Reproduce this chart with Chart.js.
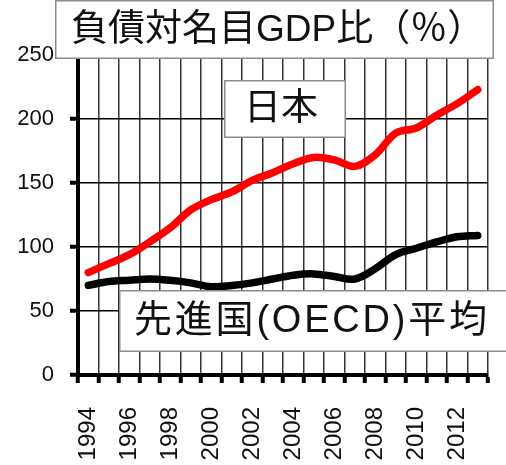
<!DOCTYPE html>
<html>
<head>
<meta charset="utf-8">
<script src="https://cdn.jsdelivr.net/npm/chart.js@4.4.1/dist/chart.umd.min.js"></script>
<style>
  html, body { margin: 0; padding: 0; background: #fff; }
  #wrap { width: 506px; height: 465px; }
</style>
</head>
<body>
<div id="wrap"><canvas id="c" width="506" height="465"></canvas></div>
<script>
// Years on the category axis
const years = ['1994', '1995', '1996', '1997', '1998', '1999', '2000', '2001', '2002', '2003',
               '2004', '2005', '2006', '2007', '2008', '2009', '2010', '2011', '2012', '2013'];

// Government debt to nominal GDP (%)
const japanDebt = [80, 87, 94, 104, 115, 129, 137, 143, 152, 158,
                   165, 170, 168, 163, 172, 189, 193, 203, 212, 223];
const oecdDebt  = [70, 73, 74, 75, 74, 72, 69, 70, 72, 75,
                   78, 79, 77, 75, 83, 94, 99, 104, 108, 109];

// Value axis range
const yMin = 0, yMax = 250, yStep = 50;

// Texts
const titleText = '負債対名目GDP比（％）';
const japanLabel = '日本';
const oecdLabel = '先進国(OECD)平均';

const axisFont = '"Liberation Sans", Arial, sans-serif';
const labelFont = '"Liberation Sans", Arial, "Noto Sans CJK JP", sans-serif';

// Framed text boxes drawn over the plot
const boxes = [
  { text: titleText,  x: 55,  y: 0,   w: 439, h: 59, tx: 71,  ty: 31,  size: 37, spacing: 0 },
  { text: japanLabel, x: 224, y: 80,  w: 122, h: 58, tx: 244, ty: 110, size: 37, spacing: 0 },
  { text: oecdLabel,  x: 119, y: 290, w: 400, h: 62, tx: 134, ty: 322, size: 38, spacing: 2.8 }
];

const framedLabels = {
  id: 'framedLabels',
  afterDraw(chart) {
    const ctx = chart.ctx;
    ctx.save();
    boxes.forEach(b => {
      ctx.fillStyle = '#ffffff';
      ctx.fillRect(b.x, b.y, b.w, b.h);
      ctx.strokeStyle = '#8a8a8a';
      ctx.lineWidth = 1.5;
      ctx.strokeRect(b.x + 0.75, b.y + 0.75, b.w - 1.5, b.h - 1.5);
      ctx.fillStyle = '#111111';
      ctx.font = b.size + 'px ' + labelFont;
      ctx.letterSpacing = b.spacing + 'px';
      ctx.textAlign = 'left';
      ctx.textBaseline = 'middle';
      ctx.fillText(b.text, b.tx, b.ty);
    });
    ctx.restore();
  }
};

new Chart(document.getElementById('c'), {
  type: 'line',
  data: {
    labels: years,
    datasets: [
      {
        label: japanLabel,
        data: japanDebt,
        borderColor: '#ff0000',
        borderWidth: 7.5,
        tension: 0.35,
        pointRadius: 0,
        borderCapStyle: 'round',
        fill: false
      },
      {
        label: oecdLabel,
        data: oecdDebt,
        borderColor: '#000000',
        borderWidth: 7.5,
        tension: 0.35,
        pointRadius: 0,
        borderCapStyle: 'round',
        fill: false
      }
    ]
  },
  options: {
    responsive: false,
    animation: false,
    devicePixelRatio: 1,
    layout: { padding: { top: 55, right: 18, left: 0, bottom: 0 } },
    plugins: {
      legend: { display: false },
      title: { display: false },
      tooltip: { enabled: false }
    },
    scales: {
      x: {
        type: 'category',
        offset: true,
        grid: {
          offset: true,
          color: ctx => ctx.index === years.length ? '#000000' : '#333333',
          lineWidth: ctx => ctx.index === years.length ? 4 : 1.5,
          drawTicks: true,
          tickLength: 8,
          tickColor: '#000000',
          tickWidth: 4
        },
        border: { display: true, color: '#000000', width: 4 },
        ticks: {
          autoSkip: false,
          minRotation: 90,
          maxRotation: 90,
          padding: 24,
          color: '#111111',
          font: { family: axisFont, size: 24 },
          callback: function (value, index) {
            return index % 2 === 0 ? this.getLabelForValue(value) : '';
          }
        },
        afterFit: scale => {
          scale.height = 90;
          scale.paddingLeft = 0;
          scale.paddingRight = 0;
        }
      },
      y: {
        min: yMin,
        max: yMax,
        grid: {
          color: '#000000',
          lineWidth: 1.5,
          drawTicks: true,
          tickLength: 8,
          tickColor: '#000000',
          tickWidth: 4
        },
        border: { display: true, color: '#000000', width: 4 },
        ticks: {
          stepSize: yStep,
          padding: 16,
          color: '#111111',
          font: { family: axisFont, size: 22 }
        },
        afterFit: scale => {
          scale.width = 78;
          scale.paddingTop = 0;
          scale.paddingBottom = 0;
        }
      }
    }
  },
  plugins: [framedLabels]
});
</script>
</body>
</html>
